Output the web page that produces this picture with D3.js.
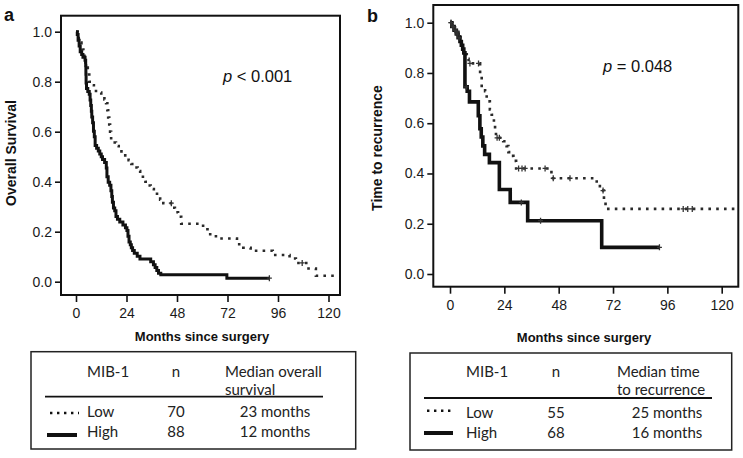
<!DOCTYPE html>
<html><head><meta charset="utf-8">
<script src="https://cdn.jsdelivr.net/npm/d3@7"></script>
<style>
html,body{margin:0;padding:0;background:#fff;}
svg{display:block;}
</style></head><body>
<svg id="chart" width="743" height="458"></svg>
<script>
// ---------- data ----------
const monthTicks = [0, 24, 48, 72, 96, 120];
const survTicks = [0, 0.2, 0.4, 0.6, 0.8, 1.0];

// Panel a: overall survival
const osHighTime = [0,0.6,1.0,1.5,2.0,2.7,3.3,4.3,4.6,4.7,4.8,5.0,5.6,6.3,6.7,7.0,7.3,7.5,7.9,8.3,8.7,9.1,9.8,10.6,11.3,12.0,12.6,13.6,14.4,14.7,15.3,16.0,16.6,17.0,17.3,17.8,18.4,19.0,19.7,20.8,22.3,23.5,24.2,24.7,25.2,25.8,26.3,26.9,27.7,29.1,30.4,35.5,36.8,37.6,38.4,39.2,40.3,71.7,91.9];
const osHighSurv = [1.0,0.989,0.966,0.943,0.920,0.909,0.898,0.886,0.864,0.830,0.795,0.773,0.761,0.750,0.727,0.705,0.682,0.659,0.636,0.602,0.580,0.545,0.534,0.523,0.511,0.500,0.489,0.477,0.455,0.420,0.398,0.386,0.364,0.341,0.318,0.295,0.284,0.261,0.250,0.239,0.227,0.216,0.205,0.182,0.159,0.148,0.136,0.125,0.114,0.102,0.091,0.080,0.068,0.057,0.045,0.034,0.028,0.014,0.014];
const osHighCensor = [91.9];
const osLowTime = [0,0.8,1.3,1.9,2.6,3.1,3.5,4.0,4.5,5.1,5.6,6.3,7.3,8.5,9.5,12.0,13.5,14.3,14.9,15.3,15.8,16.2,16.7,19.0,20.3,21.6,23.4,25.0,26.3,27.5,29.3,30.5,31.8,33.0,34.0,35.5,37.0,38.5,40.0,41.5,46.0,47.0,48.5,50.0,60.4,62.5,66.5,76.5,79.5,83.0,93.5,101.5,104.5,110.5,114.0,125.0];
const osLowSurv = [1.0,0.986,0.971,0.957,0.943,0.929,0.914,0.886,0.871,0.857,0.829,0.800,0.786,0.771,0.757,0.743,0.729,0.714,0.686,0.657,0.629,0.600,0.557,0.543,0.528,0.514,0.500,0.486,0.471,0.457,0.443,0.428,0.414,0.400,0.385,0.371,0.357,0.343,0.328,0.314,0.296,0.278,0.260,0.232,0.210,0.190,0.173,0.150,0.136,0.124,0.107,0.093,0.075,0.053,0.024,0.024];
const osLowCensor = [45.3, 107.5];

// Panel b: time to recurrence
const rcHighTime = [0,0.8,1.8,2.8,3.6,4.4,5.0,5.6,6.1,6.6,7.6,8.6,12.5,13.2,13.8,14.5,15.3,17.4,21.8,26.6,34.3,67.0,92.5];
const rcHighSurv = [1,0.985,0.970,0.955,0.940,0.925,0.910,0.895,0.880,0.745,0.727,0.685,0.630,0.578,0.545,0.510,0.476,0.443,0.336,0.285,0.212,0.106,0.106];
const rcHighCensor = [0.5,1.3,2.2,3.2,4.0,7.2,31.5,40.0,92.5];
const rcLowTime = [0,1.0,2.2,3.7,4.5,5.2,5.9,6.6,7.4,8.2,13.3,14.0,15.5,16.2,17.6,18.4,19.4,19.9,20.3,23.5,25.0,25.8,27.2,28.0,29.2,44.8,64.8,66.2,68.0,68.7,127];
const rcLowSurv = [1,0.982,0.964,0.946,0.928,0.910,0.892,0.874,0.856,0.838,0.795,0.740,0.727,0.687,0.655,0.634,0.600,0.572,0.542,0.528,0.509,0.485,0.470,0.450,0.420,0.381,0.360,0.332,0.293,0.259,0.259];
const rcLowCensor = [0.4,1.5,3.0,8.8,12.6,20.8,21.8,30.3,31.8,33.2,42.0,45.6,53.0,67.6,103.0,105.0,107.0];

// Legend tables
const groups = ["Low", "High"];
const osN = [70, 88];
const osMedian = ["23 months", "12 months"];
const rcN = [55, 68];
const rcMedian = ["25 months", "16 months"];

// ---------- drawing ----------
const svg = d3.select("#chart");
const DOT = "2.6,5.2";

function survAt(times, survs, t) {
  const i = Math.max(0, d3.bisectRight(times, t) - 1);
  return survs[i];
}

function drawPanel(cfg) {
  const g = svg.append("g");
  const x = d3.scaleLinear().domain([0, 120]).range(cfg.xr);
  const y = d3.scaleLinear().domain([0, 1]).range(cfg.yr);

  // y axis
  const ya = g.append("g").attr("transform", `translate(${cfg.box.l},0)`)
    .call(d3.axisLeft(y).tickValues(survTicks).tickFormat(d3.format(".1f")).tickSize(6).tickPadding(3));
  ya.select(".domain").remove();
  ya.selectAll(".tick line").attr("stroke", "#111").attr("stroke-width", 1.6);
  ya.selectAll(".tick text").attr("font-family", "Liberation Sans, Arial, sans-serif").attr("font-size", 14).attr("fill", "#1a1a1a");

  // x axis
  const xa = g.append("g").attr("transform", `translate(0,${cfg.box.b})`)
    .call(d3.axisBottom(x).tickValues(monthTicks).tickSize(7).tickPadding(6));
  xa.select(".domain").remove();
  xa.selectAll(".tick line").attr("stroke", "#111").attr("stroke-width", 1.6);
  xa.selectAll(".tick text").attr("font-family", "Liberation Sans, Arial, sans-serif").attr("font-size", 14).attr("fill", "#1a1a1a");

  // box
  g.append("rect").attr("x", cfg.box.l).attr("y", cfg.box.t)
    .attr("width", cfg.box.r - cfg.box.l).attr("height", cfg.box.b - cfg.box.t)
    .attr("fill", "none").attr("stroke", "#111").attr("stroke-width", 2);

  const line = d3.line().x(d => x(d[0])).y(d => y(d[1])).curve(d3.curveStepAfter);

  // low (dotted)
  g.append("path").datum(d3.zip(cfg.lowT, cfg.lowS)).attr("d", line)
    .attr("fill", "none").attr("stroke", "#2a2a2a").attr("stroke-width", 2.6)
    .attr("stroke-dasharray", DOT);
  // high (solid)
  g.append("path").datum(d3.zip(cfg.highT, cfg.highS)).attr("d", line)
    .attr("fill", "none").attr("stroke", "#111").attr("stroke-width", cfg.solidW);

  // censor marks
  const cens = [];
  cfg.lowC.forEach(t => cens.push([t, survAt(cfg.lowT, cfg.lowS, t)]));
  cfg.highC.forEach(t => cens.push([t, survAt(cfg.highT, cfg.highS, t)]));
  g.selectAll(null).data(cens).enter().append("path")
    .attr("d", d => `M${x(d[0])},${y(d[1]) - 3}V${y(d[1]) + 3}M${x(d[0]) - 2.5},${y(d[1])}H${x(d[0]) + 2.5}`)
    .attr("stroke", "#333").attr("stroke-width", 1.3).attr("fill", "none");

  // panel letter
  g.append("text").attr("x", cfg.letterPos[0]).attr("y", cfg.letterPos[1])
    .attr("font-family", "Liberation Sans, Arial, sans-serif").attr("font-weight", "bold")
    .attr("font-size", 18).attr("fill", "#111").text(cfg.letter);

  // y title
  g.append("text").attr("transform", `translate(${cfg.yTitlePos[0]},${cfg.yTitlePos[1]}) rotate(-90)`)
    .attr("text-anchor", "middle").attr("dy", "0.35em")
    .attr("font-family", "Liberation Sans, Arial, sans-serif").attr("font-weight", "bold")
    .attr("font-size", 14).attr("fill", "#111").text(cfg.yTitle);

  // x title
  g.append("text").attr("x", cfg.xTitlePos[0]).attr("y", cfg.xTitlePos[1])
    .attr("text-anchor", "middle")
    .attr("font-family", "Liberation Sans, Arial, sans-serif").attr("font-weight", "bold")
    .attr("font-size", 13).attr("fill", "#111").text("Months since surgery");

  // p value
  const pt = g.append("text").attr("x", cfg.pPos[0]).attr("y", cfg.pPos[1])
    .attr("font-family", "Liberation Sans, Arial, sans-serif").attr("font-size", 16.5).attr("fill", "#111");
  pt.append("tspan").attr("font-style", "italic").text("p");
  pt.append("tspan").text(" " + cfg.pText);
}

drawPanel({
  box: {l: 61, r: 340, t: 15.7, b: 295}, xr: [76, 328.5], yr: [281.7, 31.7],
  lowT: osLowTime, lowS: osLowSurv, lowC: osLowCensor,
  highT: osHighTime, highS: osHighSurv, highC: osHighCensor,
  solidW: 3, letter: "a", letterPos: [4, 21],
  yTitle: "Overall Survival", yTitlePos: [11, 153],
  xTitlePos: [202, 341], pPos: [223, 82], pText: "< 0.001"
});
drawPanel({
  box: {l: 433.3, r: 738.3, t: 5, b: 286.7}, xr: [450, 721.7], yr: [274, 22.7],
  lowT: rcLowTime, lowS: rcLowSurv, lowC: rcLowCensor,
  highT: rcHighTime, highS: rcHighSurv, highC: rcHighCensor,
  solidW: 3.6, letter: "b", letterPos: [367, 22],
  yTitle: "Time to recurrence", yTitlePos: [377, 148],
  xTitlePos: [584, 342], pPos: [603, 72], pText: "= 0.048"
});

// ---------- legend tables ----------
function drawTable(cfg) {
  const g = svg.append("g");
  const F = "Lato, 'Open Sans', sans-serif";
  g.append("rect").attr("x", cfg.box[0]).attr("y", cfg.box[1])
    .attr("width", cfg.box[2] - cfg.box[0]).attr("height", cfg.box[3] - cfg.box[1])
    .attr("fill", "none").attr("stroke", "#222").attr("stroke-width", 1.5);
  const txt = (x, y, s, anchor) => g.append("text").attr("x", x).attr("y", y)
    .attr("text-anchor", anchor || "start").attr("font-family", F).attr("font-size", 15)
    .attr("fill", "#222").text(s);
  txt(cfg.colMib, cfg.headY, "MIB-1");
  txt(cfg.colN, cfg.headY, "n", "middle");
  txt(cfg.colMed, cfg.headY, cfg.head1);
  txt(cfg.colMed, cfg.headY + 18, cfg.head2);
  g.append("line").attr("x1", cfg.rule[0]).attr("x2", cfg.rule[1])
    .attr("y1", cfg.rule[2]).attr("y2", cfg.rule[2]).attr("stroke", "#111").attr("stroke-width", 1.8);
  groups.forEach((grp, i) => {
    const by = cfg.rowY[i];
    const ly = cfg.sampleY[i];
    const ln = g.append("line").attr("x1", cfg.sampleX[i][0]).attr("x2", cfg.sampleX[i][1])
      .attr("y1", ly).attr("y2", ly).attr("stroke", "#111");
    if (i === 0) ln.attr("stroke-width", 2.4).attr("stroke-dasharray", "2.4,4.6");
    else ln.attr("stroke-width", 4);
    txt(cfg.colMib, by, grp);
    txt(cfg.colN, by, cfg.n[i], "middle");
    txt(cfg.colMonths, by, cfg.med[i], "middle");
  });
}

drawTable({
  box: [31, 351.7, 355.7, 449], headY: 377, colMib: 87, colN: 176, colMed: 225, colMonths: 275,
  head1: "Median overall", head2: "survival", rule: [45, 323, 396.7],
  rowY: [417, 437], sampleY: [413, 435], sampleX: [[50, 79], [47, 77]],
  n: osN, med: osMedian
});
drawTable({
  box: [410, 353, 731.7, 450], headY: 377, colMib: 466, colN: 556, colMed: 617, colMonths: 667,
  head1: "Median time", head2: "to recurrence", rule: [424, 712, 398],
  rowY: [418, 438], sampleY: [410.7, 433], sampleX: [[427, 454], [424, 453]],
  n: rcN, med: rcMedian
});
</script>
</body></html>
